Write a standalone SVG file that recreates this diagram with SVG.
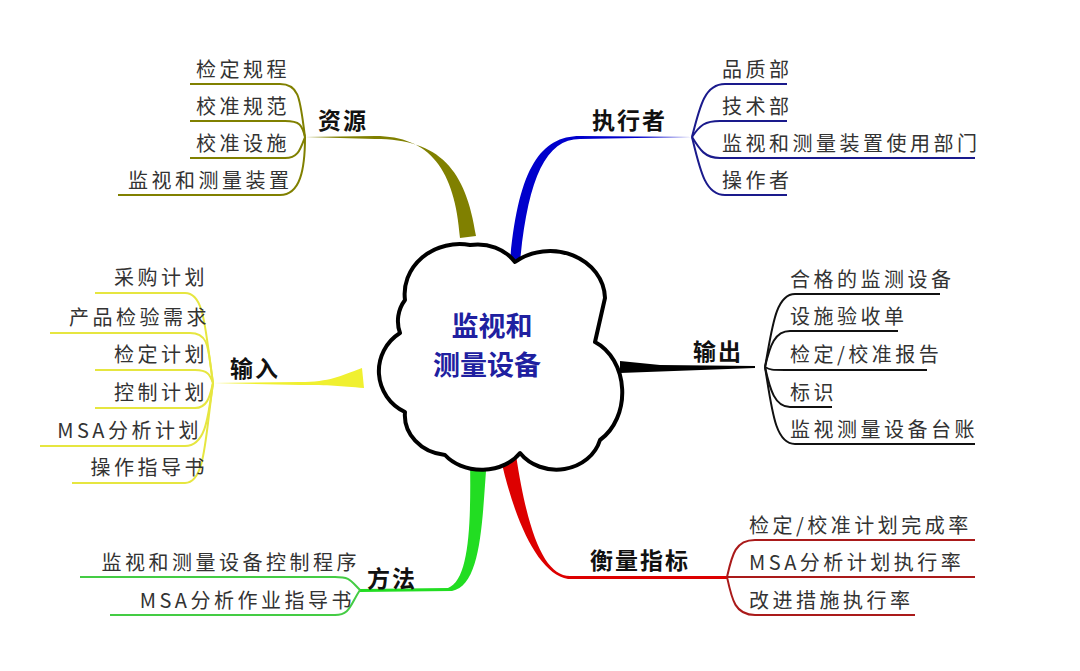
<svg xmlns="http://www.w3.org/2000/svg" width="1080" height="671" viewBox="0 0 1080 671">
<style>
.leaf{font-family:"Noto Sans CJK SC","Liberation Sans",sans-serif;font-size:20px;letter-spacing:3.5px;fill:#333}
.lab{font-family:"Noto Sans CJK SC","Liberation Sans",sans-serif;font-size:23px;font-weight:bold;letter-spacing:2px;fill:#111}
.ctr{font-family:"Noto Sans CJK SC",sans-serif;font-size:27px;font-weight:bold;fill:#2020a0}
.ln{fill:none;stroke-width:2}
</style>
<defs><clipPath id="cl"><rect x="0" y="0" width="976" height="671"/></clipPath></defs>
<rect width="1080" height="671" fill="#fff"/>
<g id="connectors">
<path d="M305,137 L375,136 C430,136 455,170 460,238 L476,236 C466,170 440,139 375,139 Z" fill="#808000"/>
<g class="ln" stroke="#808000">
<path d="M305,137 C300,100 300,84 280,84 L190,84"/>
<path d="M305,137 C302,125 300,121 285,121 L190,121"/>
<path d="M305,137 C300,150 298,158 285,158 L190,158"/>
<path d="M305,137 C305,170 300,195 280,195 L118,195"/>
</g>
<path d="M692,137 L580,136 C540,136 518,170 510,262 L520,262 C528,180 545,139 580,139 Z" fill="#0000cc"/>
<g class="ln" stroke="#1a1a8c">
<path d="M692,137 C700,105 705,84 725,84 L787,84"/>
<path d="M692,137 C700,125 705,121 720,121 L787,121"/>
<path d="M692,137 C700,150 705,158 720,158 L975,158"/>
<path d="M692,137 C700,170 705,195 725,195 L787,195"/>
</g>
<path d="M620,361 L660,365 L755,366 L755,368 L620,373 Z" fill="#000"/>
<g class="ln" stroke="#111">
<path d="M765,367 C772,330 775,294 795,294 L940,294"/>
<path d="M765,367 C770,345 775,331 790,331 L898,331"/>
<path d="M765,367 C770,370 772,370 785,370 L927,370"/>
<path d="M765,367 C770,390 775,407 790,407 L832,407"/>
<path d="M765,367 C772,410 775,444 795,444 L975,444"/>
</g>
<path d="M213,383 L300,382 C330,382 340,376 362,368 L364,388 C340,386 330,385 300,385 Z" fill="#f0f030"/>
<g class="ln" stroke="#e6e640">
<path d="M213,383 C205,330 205,293 185,293 L95,293"/>
<path d="M213,383 C208,350 210,333 190,333 L50,333"/>
<path d="M213,383 C210,375 208,370 195,370 L95,370"/>
<path d="M213,383 C210,395 208,408 195,408 L95,408"/>
<path d="M213,383 C208,420 205,446 185,446 L40,446"/>
<path d="M213,383 C205,440 205,483 185,483 L72,483"/>
</g>
<path d="M470,458 L487,458 C482,520 482,585 452,591 L360,592 L360,589 L448,588 C470,580 471,520 470,458 Z" fill="#22dd22"/>
<g class="ln" stroke="#44cc44">
<path d="M360,590 C350,580 350,577 335,577 L80,577"/>
<path d="M360,590 C350,605 350,615 335,615 L110,615"/>
</g>
<path d="M500,455 L516,455 C528,535 545,576 570,576 L727,576 L727,579 L568,579 C538,574 514,520 500,455 Z" fill="#dd0000"/>
<g class="ln" stroke="#aa1a1a">
<path d="M727,577 C732,555 735,540 755,540 L975,540"/>
<path d="M727,577 L975,577"/>
<path d="M727,577 C732,600 735,615 755,615 L915,615"/>
</g>
</g>
<g id="center">
<path d="M405,300 A55,50 0 0 1 470,245 A45,40 0 0 1 515,262 A55,48 0 0 1 605,298 L595,342 A45,55 0 0 1 600,440 A45,40 0 0 1 520,453 A45,35 0 0 1 445,455 A45,40 0 0 1 405,412 A45,45 0 0 1 400,333 A35,35 0 0 1 405,300 Z" fill="#fff" stroke="#000" stroke-width="4" stroke-linejoin="round"/>
<text class="ctr" x="492" y="336" text-anchor="middle">监视和</text>
<text class="ctr" x="487" y="375" text-anchor="middle">测量设备</text>
</g>
<g id="resources">
<text class="lab" x="318" y="129">资源</text>
<text class="leaf" x="196" y="77">检定规程</text>
<text class="leaf" x="196" y="114">校准规范</text>
<text class="leaf" x="196" y="151">校准设施</text>
<text class="leaf" x="128" y="188">监视和测量装置</text>
</g>
<g id="executor">
<text class="lab" x="592" y="129">执行者</text>
<text class="leaf" x="722" y="77">品质部</text>
<text class="leaf" x="722" y="114">技术部</text>
<text class="leaf" x="722" y="151" clip-path="url(#cl)">监视和测量装置使用部门</text>
<text class="leaf" x="722" y="188">操作者</text>
</g>
<g id="output">
<text class="lab" x="693" y="360">输出</text>
<text class="leaf" x="790" y="287">合格的监测设备</text>
<text class="leaf" x="790" y="324">设施验收单</text>
<text class="leaf" x="790" y="362">检定/校准报告</text>
<text class="leaf" x="790" y="400">标识</text>
<text class="leaf" x="790" y="437" clip-path="url(#cl)">监视测量设备台账</text>
</g>
<g id="input">
<text class="lab" x="230" y="377">输入</text>
<text class="leaf" x="208" y="285" text-anchor="end">采购计划</text>
<text class="leaf" x="210" y="325" text-anchor="end">产品检验需求</text>
<text class="leaf" x="208" y="362" text-anchor="end">检定计划</text>
<text class="leaf" x="208" y="400" text-anchor="end">控制计划</text>
<text class="leaf" x="202" y="438" text-anchor="end">MSA分析计划</text>
<text class="leaf" x="208" y="475" text-anchor="end">操作指导书</text>
</g>
<g id="method">
<text class="lab" x="367" y="587">方法</text>
<text class="leaf" x="360" y="570" text-anchor="end">监视和测量设备控制程序</text>
<text class="leaf" x="355" y="608" text-anchor="end">MSA分析作业指导书</text>
</g>
<g id="metric">
<text class="lab" x="590" y="569">衡量指标</text>
<text class="leaf" x="749" y="533">检定/校准计划完成率</text>
<text class="leaf" x="749" y="570">MSA分析计划执行率</text>
<text class="leaf" x="749" y="608">改进措施执行率</text>
</g>
</svg>
